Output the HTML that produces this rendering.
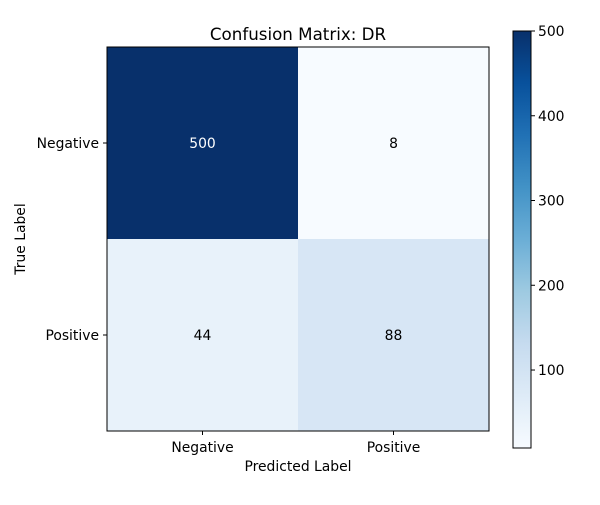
<!DOCTYPE html>
<html><head><meta charset="utf-8"><style>
body{margin:0;background:#fff;font-family:"Liberation Sans","DejaVu Sans",sans-serif;}
svg text{font-family:"DejaVu Sans","Liberation Sans",sans-serif;}
</style></head><body>
<svg id="chart" width="600" height="500" xmlns="http://www.w3.org/2000/svg">
<defs><linearGradient id="blues" x1="0" y1="1" x2="0" y2="0">
<stop offset="0" stop-color="#f7fbff"/><stop offset="0.125" stop-color="#deebf7"/><stop offset="0.25" stop-color="#c6dbef"/><stop offset="0.375" stop-color="#9ecae1"/><stop offset="0.5" stop-color="#6baed6"/><stop offset="0.625" stop-color="#4292c6"/><stop offset="0.75" stop-color="#2171b5"/><stop offset="0.875" stop-color="#08519c"/><stop offset="1" stop-color="#08306b"/></linearGradient></defs>
<text x="298" y="40" text-anchor="middle" font-size="16.7">Confusion Matrix: DR</text>
<g id="cells"></g>
<rect x="107" y="47" width="382" height="384" fill="none" stroke="#000" stroke-width="1"/>
<g id="axes"></g>
<text x="298" y="471" text-anchor="middle" font-size="13.9">Predicted Label</text>
<text transform="translate(25,239) rotate(-90)" text-anchor="middle" font-size="13.9">True Label</text>
<rect x="513" y="31" width="18" height="417" fill="url(#blues)" stroke="#000" stroke-width="1"/>
<g id="cbticks"></g>
</svg>
<script>
const labels=["Negative","Positive"];
const matrix=[[500,8],[44,88]];
const cbTicks=[100,200,300,400,500];
const stops=["#f7fbff","#deebf7","#c6dbef","#9ecae1","#6baed6","#4292c6","#2171b5","#08519c","#08306b"];
const NS="http://www.w3.org/2000/svg";
const vals=matrix.flat(),vmin=Math.min(...vals),vmax=Math.max(...vals);
const x0=107,y0=47,W=382,H=384,n=labels.length,cw=W/n,ch=H/n;
function hex(h){return [1,3,5].map(i=>parseInt(h.substr(i,2),16));}
function color(v){let t=(v-vmin)/(vmax-vmin)*(stops.length-1);let i=Math.min(Math.floor(t),stops.length-2),f=t-i;const a=hex(stops[i]),b=hex(stops[i+1]);return "rgb("+a.map((c,k)=>Math.round(c+(b[k]-c)*f)).join(",")+")";}
function el(tag,attrs,parent,txt){const e=document.createElementNS(NS,tag);for(const k in attrs)e.setAttribute(k,attrs[k]);if(txt!==undefined)e.textContent=txt;parent.appendChild(e);return e;}
const cells=document.getElementById("cells"),axes=document.getElementById("axes"),cb=document.getElementById("cbticks");
const thresh=(vmax+vmin)/2;
matrix.forEach((row,r)=>row.forEach((v,c)=>{
 const rc=el("rect",{x:x0+c*cw,y:y0+r*ch,width:cw,height:ch,fill:color(v)},cells);
 
 
 const t=el("text",{x:x0+(c+0.5)*cw,y:y0+(r+0.5)*ch+5,"text-anchor":"middle","font-size":"13.9",fill:v>thresh?"#fff":"#000"},cells,v);
 
 
}));
labels.forEach((l,i)=>{
 const cx=x0+(i+0.5)*cw;
 el("line",{x1:cx,x2:cx,y1:431,y2:435,stroke:"#000"},axes);
 const tx=el("text",{x:cx,y:452,"text-anchor":"middle","font-size":"13.9"},axes,l);
 
 
 const cy=y0+(i+0.5)*ch;
 el("line",{x1:103,x2:107,y1:cy,y2:cy,stroke:"#000"},axes);
 const ty=el("text",{x:99,y:cy+5,"text-anchor":"end","font-size":"13.9"},axes,l);
 
 
});
cbTicks.forEach(v=>{
 const y=448-(v-vmin)/(vmax-vmin)*417;
 el("line",{x1:531,x2:535,y1:y,y2:y,stroke:"#000"},cb);
 const t=el("text",{x:538,y:y+5,"font-size":"13.9"},cb,v);
 
 
});
</script>
</body></html>
